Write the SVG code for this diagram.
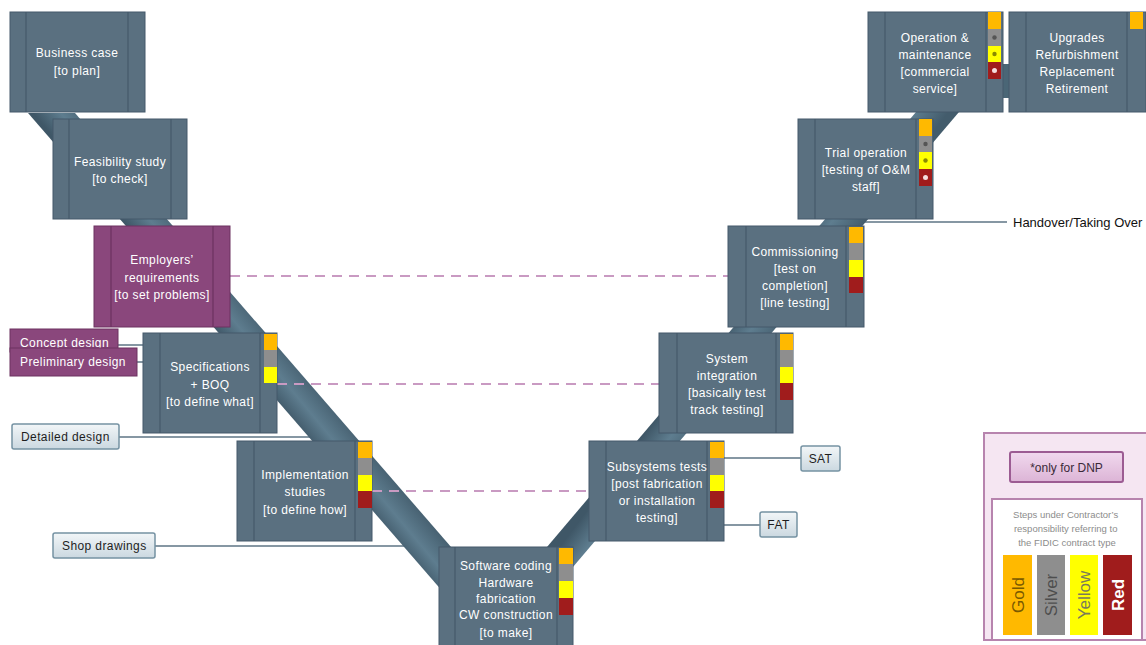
<svg xmlns="http://www.w3.org/2000/svg" width="1146" height="645" viewBox="0 0 1146 645">
  <style>
    .box { fill: #5a7080; stroke: #44596a; stroke-width: 1; }
    .pbox { fill: #8a477c; stroke: #6c3260; stroke-width: 1; }
    .div { stroke: #45596a; stroke-width: 1.2; }
    .pdiv { stroke: #6c3260; stroke-width: 1.2; }
    .lbl { font-family: "Liberation Sans", Arial, sans-serif; font-size: 12px; fill: #ffffff; text-anchor: middle; letter-spacing: 0.4px; }
    .gold { fill: #ffb900; }
    .silver { fill: #8e8e8e; }
    .yellow { fill: #ffff00; }
    .red { fill: #a01c1c; }
    .dash { stroke: #c99ac2; stroke-width: 2; stroke-dasharray: 10 7; fill: none; }
    .lead { stroke: #8697a3; stroke-width: 2; fill: none; }
    .callout { fill: url(#calloutFill); stroke: #7592a3; stroke-width: 1.5; }
    .ctext { font-family: "Liberation Sans", Arial, sans-serif; font-size: 12px; fill: #1e1e1e; letter-spacing: 0.4px; }
    .ptext { font-family: "Liberation Sans", Arial, sans-serif; font-size: 12px; fill: #ffffff; letter-spacing: 0.4px; }
  </style>
  <defs>
    <linearGradient id="calloutFill" x1="0" y1="0" x2="0" y2="1">
      <stop offset="0" stop-color="#f2f6f8"/>
      <stop offset="1" stop-color="#cbd8e0"/>
    </linearGradient>
    <linearGradient id="leftArm" gradientUnits="userSpaceOnUse" x1="239" y1="360" x2="275" y2="330">
      <stop offset="0" stop-color="#3f5767"/>
      <stop offset="0.45" stop-color="#5e7d8f"/>
      <stop offset="1" stop-color="#435c6c"/>
    </linearGradient>
    <linearGradient id="rightArm" gradientUnits="userSpaceOnUse" x1="700" y1="360" x2="740" y2="390">
      <stop offset="0" stop-color="#3f5767"/>
      <stop offset="0.45" stop-color="#5e7d8f"/>
      <stop offset="1" stop-color="#435c6c"/>
    </linearGradient>
    <linearGradient id="legendKey" x1="0" y1="0" x2="0" y2="1">
      <stop offset="0" stop-color="#f1d9ee"/>
      <stop offset="1" stop-color="#dcb4d6"/>
    </linearGradient>
  </defs>

  <!-- leader lines from the side notes -->
  <g id="leaders">
    <line class="lead" x1="118" y1="345" x2="143" y2="345"/>
    <line class="lead" x1="137" y1="362" x2="143" y2="362"/>
    <line class="lead" x1="119" y1="437" x2="314" y2="437"/>
    <line class="lead" x1="155" y1="546" x2="410" y2="546"/>
    <line class="lead" x1="724" y1="458" x2="801" y2="458"/>
    <line class="lead" x1="724" y1="525" x2="760" y2="525"/>
    <line class="lead" x1="863" y1="222" x2="1007" y2="222"/>
  </g>

  <!-- the V-shaped flow bands and the level links -->
  <g id="connectors">
    <polygon points="28,113 75,113 497,600 450,600" fill="url(#leftArm)"/>
    <polygon points="485,620 528,620 959,112 916,112" fill="url(#rightArm)"/>
    <rect x="1002" y="64" width="8" height="34" fill="#4a6676"/>
    <line class="dash" x1="230" y1="276" x2="728" y2="276"/>
    <line class="dash" x1="277" y1="384" x2="659" y2="384"/>
    <line class="dash" x1="372" y1="491" x2="589" y2="491"/>
  </g>

  <g id="business-case">
    <rect class="box" x="10" y="12" width="135" height="100"/>
    <line class="div" x1="26" y1="12" x2="26" y2="112"/>
    <line class="div" x1="128" y1="12" x2="128" y2="112"/>
    <text class="lbl" x="77" y="57">Business case<tspan x="77" dy="18">[to plan]</tspan></text>
  </g>

  <g id="feasibility-study">
    <rect class="box" x="53" y="119" width="134" height="100"/>
    <line class="div" x1="69" y1="119" x2="69" y2="219"/>
    <line class="div" x1="171" y1="119" x2="171" y2="219"/>
    <text class="lbl" x="120" y="166">Feasibility study<tspan x="120" dy="17">[to check]</tspan></text>
  </g>

  <g id="employers-requirements">
    <rect class="pbox" x="94" y="226" width="136" height="101"/>
    <line class="pdiv" x1="111" y1="226" x2="111" y2="327"/>
    <line class="pdiv" x1="213" y1="226" x2="213" y2="327"/>
    <text class="lbl" x="162" y="264">Employers’<tspan x="162" dy="17.5">requirements</tspan><tspan x="162" dy="17.5">[to set problems]</tspan></text>
  </g>

  <g id="concept-design">
    <rect class="pbox" x="10" y="329" width="108" height="23"/>
    <text class="ptext" x="20" y="347">Concept design</text>
  </g>

  <g id="preliminary-design">
    <rect class="pbox" x="10" y="348" width="127" height="28"/>
    <text class="ptext" x="20" y="366">Preliminary design</text>
  </g>

  <g id="specifications">
    <rect class="box" x="143" y="333" width="134" height="100"/>
    <line class="div" x1="160" y1="333" x2="160" y2="433"/>
    <line class="div" x1="260" y1="333" x2="260" y2="433"/>
    <rect class="gold" x="264" y="334" width="13" height="16"/>
    <rect class="silver" x="264" y="350" width="13" height="17"/>
    <rect class="yellow" x="264" y="367" width="13" height="16"/>
    <text class="lbl" x="210" y="371">Specifications<tspan x="210" dy="17.5">+ BOQ</tspan><tspan x="210" dy="17.5">[to define what]</tspan></text>
  </g>

  <g id="detailed-design">
    <rect class="callout" x="12" y="424" width="107" height="25" rx="2"/>
    <text class="ctext" x="21" y="441">Detailed design</text>
  </g>

  <g id="implementation-studies">
    <rect class="box" x="237" y="441" width="135" height="100"/>
    <line class="div" x1="254" y1="441" x2="254" y2="541"/>
    <line class="div" x1="355" y1="441" x2="355" y2="541"/>
    <rect class="gold" x="358" y="442" width="14" height="16"/>
    <rect class="silver" x="358" y="458" width="14" height="17"/>
    <rect class="yellow" x="358" y="475" width="14" height="16"/>
    <rect class="red" x="358" y="491" width="14" height="17"/>
    <text class="lbl" x="305" y="479">Implementation<tspan x="305" dy="17">studies</tspan><tspan x="305" dy="17.5">[to define how]</tspan></text>
  </g>

  <g id="shop-drawings">
    <rect class="callout" x="53" y="533" width="102" height="25" rx="2"/>
    <text class="ctext" x="62" y="550">Shop drawings</text>
  </g>

  <g id="software-coding">
    <rect class="box" x="439" y="547" width="134" height="110"/>
    <line class="div" x1="455" y1="547" x2="455" y2="657"/>
    <line class="div" x1="557" y1="547" x2="557" y2="657"/>
    <rect class="gold" x="559" y="548" width="14" height="16"/>
    <rect class="silver" x="559" y="564" width="14" height="17"/>
    <rect class="yellow" x="559" y="581" width="14" height="17"/>
    <rect class="red" x="559" y="598" width="14" height="17"/>
    <text class="lbl" x="506" y="570">Software coding<tspan x="506" dy="16.5">Hardware</tspan><tspan x="506" dy="16.5">fabrication</tspan><tspan x="506" dy="16">CW construction</tspan><tspan x="506" dy="17.5">[to make]</tspan></text>
  </g>

  <g id="subsystems-tests">
    <rect class="box" x="589" y="441" width="135" height="100"/>
    <line class="div" x1="606" y1="441" x2="606" y2="541"/>
    <line class="div" x1="707" y1="441" x2="707" y2="541"/>
    <rect class="gold" x="710" y="442" width="14" height="16"/>
    <rect class="silver" x="710" y="458" width="14" height="17"/>
    <rect class="yellow" x="710" y="475" width="14" height="16"/>
    <rect class="red" x="710" y="491" width="14" height="17"/>
    <text class="lbl" x="657" y="471" letter-spacing="0.1">Subsystems tests<tspan x="657" dy="16.5">[post fabrication</tspan><tspan x="657" dy="17">or installation</tspan><tspan x="657" dy="17.5">testing]</tspan></text>
  </g>

  <g id="sat">
    <rect class="callout" x="801" y="446" width="39" height="25" rx="2"/>
    <text class="ctext" x="820.5" y="463" text-anchor="middle">SAT</text>
  </g>

  <g id="fat">
    <rect class="callout" x="760" y="512" width="37" height="25" rx="2"/>
    <text class="ctext" x="778.5" y="529" text-anchor="middle">FAT</text>
  </g>

  <g id="system-integration">
    <rect class="box" x="659" y="333" width="134" height="100"/>
    <line class="div" x1="677" y1="333" x2="677" y2="433"/>
    <line class="div" x1="776" y1="333" x2="776" y2="433"/>
    <rect class="gold" x="780" y="334" width="13" height="16"/>
    <rect class="silver" x="780" y="350" width="13" height="17"/>
    <rect class="yellow" x="780" y="367" width="13" height="16"/>
    <rect class="red" x="780" y="383" width="13" height="17"/>
    <text class="lbl" x="727" y="363">System<tspan x="727" dy="17">integration</tspan><tspan x="727" dy="16.5">[basically test</tspan><tspan x="727" dy="17">track testing]</tspan></text>
  </g>

  <g id="commissioning">
    <rect class="box" x="728" y="226" width="136" height="101"/>
    <line class="div" x1="746" y1="226" x2="746" y2="327"/>
    <line class="div" x1="846" y1="226" x2="846" y2="327"/>
    <rect class="gold" x="849" y="227" width="14" height="16"/>
    <rect class="silver" x="849" y="243" width="14" height="17"/>
    <rect class="yellow" x="849" y="260" width="14" height="17"/>
    <rect class="red" x="849" y="277" width="14" height="16"/>
    <text class="lbl" x="795" y="256">Commissioning<tspan x="795" dy="17">[test on</tspan><tspan x="795" dy="16.5">completion]</tspan><tspan x="795" dy="17.5">[line testing]</tspan></text>
  </g>

  <g id="handover">
    <text x="1013" y="227" font-family="'Liberation Sans', Arial, sans-serif" font-size="13" fill="#111">Handover/Taking Over</text>
  </g>

  <g id="trial-operation">
    <rect class="box" x="798" y="119" width="135" height="100"/>
    <line class="div" x1="815" y1="119" x2="815" y2="219"/>
    <line class="div" x1="916" y1="119" x2="916" y2="219"/>
    <rect class="gold" x="919" y="119" width="13" height="17"/>
    <rect class="silver" x="919" y="136" width="13" height="16"/>
    <rect class="yellow" x="919" y="152" width="13" height="17"/>
    <rect class="red" x="919" y="169" width="13" height="17"/>
    <circle cx="925.5" cy="144" r="2.2" fill="#555"/>
    <circle cx="925.5" cy="160.5" r="2.2" fill="#8a8a00"/>
    <circle cx="925.5" cy="177.5" r="2.5" fill="#f4dede"/>
    <text class="lbl" x="866" y="157">Trial operation<tspan x="866" dy="17">[testing of O&amp;M</tspan><tspan x="866" dy="17">staff]</tspan></text>
  </g>

  <g id="operation-maintenance">
    <rect class="box" x="868" y="12" width="135" height="100"/>
    <line class="div" x1="885" y1="12" x2="885" y2="112"/>
    <line class="div" x1="986" y1="12" x2="986" y2="112"/>
    <rect class="gold" x="988" y="12" width="13" height="17"/>
    <rect class="silver" x="988" y="29" width="13" height="17"/>
    <rect class="yellow" x="988" y="46" width="13" height="16"/>
    <rect class="red" x="988" y="62" width="13" height="17"/>
    <circle cx="994.5" cy="37.5" r="2.2" fill="#555"/>
    <circle cx="994.5" cy="54" r="2.2" fill="#8a8a00"/>
    <circle cx="994.5" cy="70.5" r="2.5" fill="#f4dede"/>
    <text class="lbl" x="935" y="42">Operation &amp;<tspan x="935" dy="16.5">maintenance</tspan><tspan x="935" dy="17.5">[commercial</tspan><tspan x="935" dy="16.5">service]</tspan></text>
  </g>

  <g id="upgrades">
    <rect class="box" x="1009" y="12" width="137" height="100"/>
    <line class="div" x1="1026" y1="12" x2="1026" y2="112"/>
    <line class="div" x1="1127" y1="12" x2="1127" y2="112"/>
    <rect class="gold" x="1130" y="12" width="13" height="17"/>
    <text class="lbl" x="1077" y="42">Upgrades<tspan x="1077" dy="16.5">Refurbishment</tspan><tspan x="1077" dy="17.5">Replacement</tspan><tspan x="1077" dy="16.5">Retirement</tspan></text>
  </g>

  <g id="legend">
    <rect x="984" y="433" width="170" height="207" fill="#f5e6f2" stroke="#b784ae" stroke-width="2"/>
    <rect x="1010" y="452" width="113" height="30" rx="2" fill="url(#legendKey)" stroke="#9c5c93" stroke-width="2"/>
    <text x="1066.5" y="472" text-anchor="middle" font-family="'Liberation Sans', Arial, sans-serif" font-size="12" fill="#3a2a38">*only for DNP</text>
    <rect x="992" y="499" width="150" height="141" fill="#ffffff" stroke="#b784ae" stroke-width="2"/>
    <text text-anchor="middle" font-family="'Liberation Sans', Arial, sans-serif" font-size="9.5" fill="#8c8c8c">
      <tspan x="1067" y="518">Steps under Contractor’s</tspan>
      <tspan x="1067" y="532">responsibility referring to</tspan>
      <tspan x="1067" y="546">the FIDIC contract type</tspan>
    </text>
    <rect class="gold" x="1003" y="555" width="29" height="80"/>
    <rect class="silver" x="1037" y="555" width="28" height="80"/>
    <rect class="yellow" x="1070" y="555" width="28" height="80"/>
    <rect class="red" x="1103" y="555" width="29" height="80"/>
    <g font-family="'Liberation Sans', Arial, sans-serif" font-size="17" text-anchor="middle">
      <text transform="translate(1024,595) rotate(-90)" fill="#7a5a00">Gold</text>
      <text transform="translate(1057,595) rotate(-90)" fill="#4e4e4e">Silver</text>
      <text transform="translate(1090,595) rotate(-90)" fill="#7a7a5a">Yellow</text>
      <text transform="translate(1124,595) rotate(-90)" fill="#ffffff" font-weight="bold">Red</text>
    </g>
  </g>
</svg>
